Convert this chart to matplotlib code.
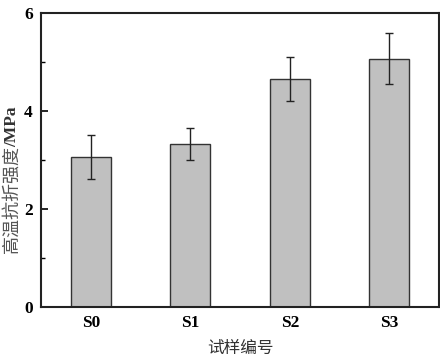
import numpy as np
import matplotlib
matplotlib.use("Agg")
import matplotlib.pyplot as plt

plt.rcParams['font.family'] = ['Liberation Serif', 'Noto Sans CJK SC']

# data
samples = ["S0", "S1", "S2", "S3"]
strength = [3.07, 3.33, 4.66, 5.07]
errors = [0.45, 0.32, 0.45, 0.52]

fig = plt.figure(figsize=(4.4, 3.59), dpi=100)
ax = fig.add_axes([41/440, 1 - 307/359, 398/440, 294/359])

x = np.arange(len(samples))
ax.bar(x, strength, width=0.4, color="#c0c0c0", edgecolor="#333333", linewidth=1.0, zorder=2)
ax.errorbar(x, strength, yerr=errors, fmt="none", ecolor="#222222", elinewidth=1.0,
            capsize=3, capthick=1.0, zorder=3)

ax.set_xlim(-0.5, 3.5)
ax.set_ylim(0, 6)
ax.set_xticks(x)
ax.set_xticklabels(samples, fontweight="bold", fontsize=12.5)
ax.set_yticks([0, 2, 4, 6])
ax.set_yticklabels(["0", "2", "4", "6"], fontweight="bold", fontsize=12.5)
ax.set_yticks([1, 3, 5], minor=True)
ax.tick_params(axis="both", which="major", direction="in", length=5, width=1.2, pad=6)
ax.tick_params(axis="y", which="minor", direction="in", length=3, width=1.0)
ax.tick_params(axis="x", which="minor", bottom=False)
for s in ax.spines.values():
    s.set_linewidth(1.5)
    s.set_color("#222222")

ax.set_xlabel("试样编号", fontsize=12, color="#333333", labelpad=6,
              family=['Noto Sans CJK SC'])

# y label: chinese part + bold unit
t1 = fig.text(12/440, 1 - 253/359, "高温抗折强度", rotation=90, ha="center", va="bottom",
              fontsize=13, color="#555555", family=['Noto Sans CJK SC'])
fig.canvas.draw()
bb = t1.get_window_extent()
fig.text(12/440, (bb.y1 - 2) / fig.bbox.height, "/MPa", rotation=90, ha="center", va="bottom",
         fontsize=12.5, fontweight="bold", color="#333333")

fig.savefig("out.png", dpi=100)
